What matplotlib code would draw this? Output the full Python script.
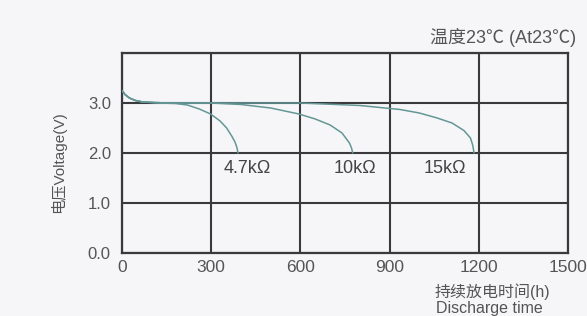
import matplotlib
matplotlib.use("Agg")
import matplotlib.pyplot as plt

plt.rcParams["font.family"] = ["Liberation Sans", "Noto Sans CJK SC", "DejaVu Sans"]

# discharge curves (hours, volts)
t_47k = [0, 10, 25, 45, 70, 120, 180, 220, 260, 298, 330, 352, 370, 380, 387, 390]
v_47k = [3.25, 3.17, 3.10, 3.05, 3.02, 3.0, 2.99, 2.96, 2.88, 2.78, 2.64, 2.5, 2.33, 2.22, 2.1, 2.0]

t_10k = [0, 10, 25, 45, 70, 150, 300, 400, 500, 595, 650, 700, 740, 765, 772, 776]
v_10k = [3.25, 3.17, 3.10, 3.05, 3.02, 3.0, 3.0, 2.97, 2.9, 2.78, 2.68, 2.56, 2.4, 2.2, 2.1, 2.0]

t_15k = [0, 10, 25, 45, 70, 150, 400, 600, 800, 935, 1000, 1060, 1110, 1150, 1172, 1180, 1184]
v_15k = [3.25, 3.17, 3.10, 3.05, 3.02, 3.0, 3.0, 3.0, 2.95, 2.87, 2.8, 2.7, 2.6, 2.45, 2.3, 2.15, 2.0]

curve_labels = ["4.7kΩ", "10kΩ", "15kΩ"]
label_x = [420, 784, 1087]
label_y = [1.68, 1.68, 1.68]

x_ticks = [0, 300, 600, 900, 1200, 1500]
y_ticks = [0, 1, 2, 3]
y_ticklabels = ["0.0", "1.0", "2.0", "3.0"]

BG = "#f6f6f8"
GRID = "#3a3a3c"
CURVE = "#649696"
TEXT = "#555555"

fig = plt.figure(figsize=(5.87, 3.16), dpi=100, facecolor=BG)
ax = fig.add_axes([0.2078, 0.1994, 0.7598, 0.6329], facecolor=BG)

for t, v in [(t_47k, v_47k), (t_10k, v_10k), (t_15k, v_15k)]:
    ax.plot(t, v, color=CURVE, lw=1.1, zorder=3, solid_capstyle="round")

for lab, x, y in zip(curve_labels, label_x, label_y):
    ax.text(x, y, lab, ha="center", va="center", fontsize=13, color="#444444")

ax.set_xlim(0, 1500)
ax.set_ylim(0, 4)
ax.set_xticks(x_ticks)
ax.set_xticklabels([str(x) for x in x_ticks], fontsize=12.5, color=TEXT)
ax.set_yticks(y_ticks + [4])
ax.set_yticklabels(y_ticklabels + [""], fontsize=12, color=TEXT)
ax.tick_params(length=0, pad=8)
ax.tick_params(axis="x", pad=5)
ax.grid(True, color=GRID, lw=1.5, zorder=1)
for s in ax.spines.values():
    s.set_color(GRID)
    s.set_linewidth(1.6)

fig.text(58 / 587, 1 - 162 / 316, "电压Voltage(V)", rotation=90, ha="center", va="center",
         fontsize=11, color=TEXT)
fig.text(576 / 587, 1 - 37 / 316, "温度23℃ (At23℃)", ha="right", va="center",
         fontsize=13, color=TEXT)
fig.text(435 / 587, 1 - 292 / 316, "持续放电时间(h)", ha="left", va="center",
         fontsize=11.5, color=TEXT)
fig.text(436 / 587, 1 - 308 / 316, "Discharge time", ha="left", va="center",
         fontsize=11.5, color=TEXT)

fig.savefig("out.png", dpi=100, facecolor=BG)
